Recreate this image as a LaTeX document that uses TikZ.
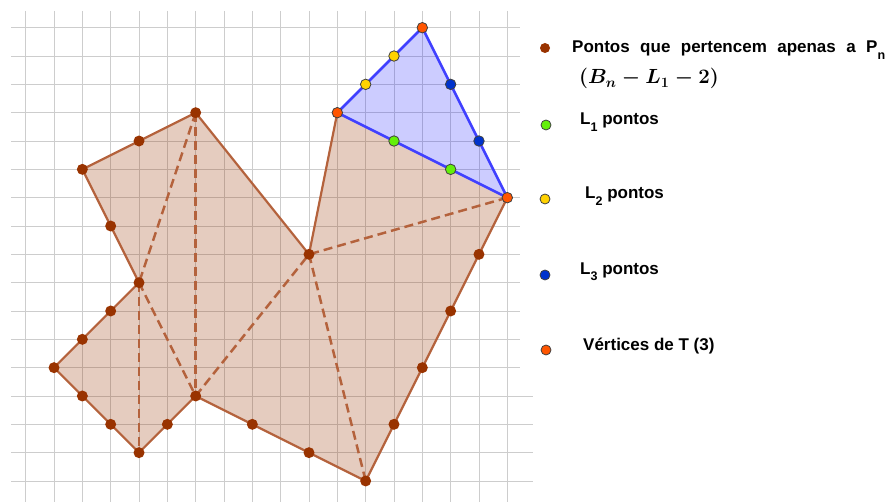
\RequirePackage{fix-cm}
\documentclass[tikz,border=0pt]{standalone}
\usepackage[no-math]{fontspec}
\setmainfont{Liberation Sans}
\usepackage{amsmath}
\definecolor{gridc}{RGB}{205,205,205}
\definecolor{brn}{RGB}{153,51,0}
\definecolor{brnline}{RGB}{180,98,60}
\definecolor{dotb}{RGB}{153,51,0}
\definecolor{triblue}{RGB}{64,64,255}
\definecolor{cgreen}{RGB}{100,240,10}
\definecolor{cyellow}{RGB}{255,210,0}
\definecolor{cblue}{RGB}{0,51,204}
\definecolor{corange}{RGB}{255,85,0}
\newcommand\mysub[1]{\raisebox{-0.36em}{\fontsize{12.5}{12.5}\selectfont #1}}
\newcommand\mymathlabel{\mbox{\boldmath$(B_n-L_1-2)$}}
\tikzset{
  bdot/.style={circle, fill=dotb, inner sep=0pt, minimum size=11pt},
  cdot/.style={circle, draw=black!75, line width=0.8pt, inner sep=0pt, minimum size=10.5pt, fill=#1},
  gridline/.style={draw=gridc, line width=0.9pt},
  brnedge/.style={draw=brnline, line width=2.2pt, line join=round},
  dashedge/.style={draw=brnline, line width=2.5pt, dash pattern=on 9pt off 5pt},
  triedge/.style={draw=triblue, line width=2.6pt, line join=round},
  legtext/.style={anchor=base west, inner sep=0pt, font=\fontsize{17}{19}\selectfont\bfseries},
  mathtext/.style={anchor=base west, inner sep=0pt, font=\fontsize{20.5}{23}\selectfont},
}
\begin{document}
\begin{tikzpicture}[x=1pt,y=-1pt]
\useasboundingbox (0,0) rectangle (889,502);
% grid
\foreach \k in {0,...,17} \draw[gridline] ({25.7+28.33*\k},11) -- ({25.7+28.33*\k},502);
\foreach \j in {0,...,12} \draw[gridline] (11,{27.7+28.33*\j}) -- (520,{27.7+28.33*\j});
\foreach \j in {13,...,16} \draw[gridline] (11,{27.7+28.33*\j}) -- (533,{27.7+28.33*\j});

\begin{scope}[shift={(25.7pt,-27.7pt)}, x=28.33pt, y=-28.33pt]
  \coordinate (A) at (6,3);
  \coordinate (B) at (10,8);
  \coordinate (C) at (11,3);
  \coordinate (D) at (17,6);
  \coordinate (E) at (12,16);
  \coordinate (F) at (6,13);
  \coordinate (G) at (4,15);
  \coordinate (H) at (1,12);
  \coordinate (I) at (4,9);
  \coordinate (J) at (2,5);
  \coordinate (T) at (14,0);
  % fills
  \fill[brn, fill opacity=0.25] (A)--(B)--(C)--(D)--(E)--(F)--(G)--(H)--(I)--(J)--cycle;
  \fill[blue, fill opacity=0.2] (C)--(T)--(D)--cycle;
  % dashed diagonals
  \draw[dashedge] (A) -- (I);
  \draw[dashedge] (A) -- (F);
  \draw[dashedge] (I) -- (G);
  \draw[dashedge] (I) -- (F);
  \draw[dashedge] (F) -- (B);
  \draw[dashedge] (D) -- (B);
  \draw[dashedge] (B) -- (E);
  % polygon edges
  \draw[brnedge] (A) -- (B) -- (C);
  \draw[brnedge] (D) -- (E) -- (F) -- (G) -- (H) -- (I) -- (J) -- (A);
  % triangle
  \draw[triedge] (C) -- (T) -- (D) -- cycle;
  % brown dots
  \node[bdot] (b1) at (6,3) {};
  \node[bdot] (b2) at (4,4) {};
  \node[bdot] (b3) at (2,5) {};
  \node[bdot] (b4) at (3,7) {};
  \node[bdot] (b5) at (4,9) {};
  \node[bdot] (b6) at (3,10) {};
  \node[bdot] (b7) at (2,11) {};
  \node[bdot] (b8) at (1,12) {};
  \node[bdot] (b9) at (2,13) {};
  \node[bdot] (b10) at (3,14) {};
  \node[bdot] (b11) at (4,15) {};
  \node[bdot] (b12) at (5,14) {};
  \node[bdot] (b13) at (6,13) {};
  \node[bdot] (b14) at (8,14) {};
  \node[bdot] (b15) at (10,15) {};
  \node[bdot] (b16) at (12,16) {};
  \node[bdot] (b17) at (13,14) {};
  \node[bdot] (b18) at (14,12) {};
  \node[bdot] (b19) at (15,10) {};
  \node[bdot] (b20) at (16,8) {};
  \node[bdot] (b21) at (10,8) {};
  % colored dots
  \node[cdot=cyellow] (y1) at (13,1) {};
  \node[cdot=cyellow] (y2) at (12,2) {};
  \node[cdot=cblue] (u1) at (15,2) {};
  \node[cdot=cblue] (u2) at (16,4) {};
  \node[cdot=cgreen] (g1) at (13,4) {};
  \node[cdot=cgreen] (g2) at (15,5) {};
  \node[cdot=corange] (o1) at (11,3) {};
  \node[cdot=corange] (o2) at (14,0) {};
  \node[cdot=corange] (o3) at (17,6) {};
\end{scope}

% legend
\node[bdot, minimum size=10pt] (lg1) at (545,48) {};
\node[cdot=cgreen, minimum size=10pt] (lg2) at (546,125) {};
\node[cdot=cyellow, minimum size=10pt] (lg3) at (545,199) {};
\node[cdot=cblue, minimum size=10pt] (lg4) at (545,275) {};
\node[cdot=corange, minimum size=10pt] (lg5) at (546,350) {};

\node[legtext] (t1) at (572,53) {\makebox[313pt][s]{Pontos que pertencem apenas a P\mysub{n}}};
\node[mathtext] (t1b) at (579,84) {\mymathlabel};
\node[legtext] (t2) at (580,125) {L\mysub{1} pontos};
\node[legtext] (t3) at (585,199) {L\mysub{2} pontos};
\node[legtext] (t4) at (580,274.5) {L\mysub{3} pontos};
\node[legtext] (t5) at (583,351) {Vértices de T (3)};
\end{tikzpicture}
\end{document}
